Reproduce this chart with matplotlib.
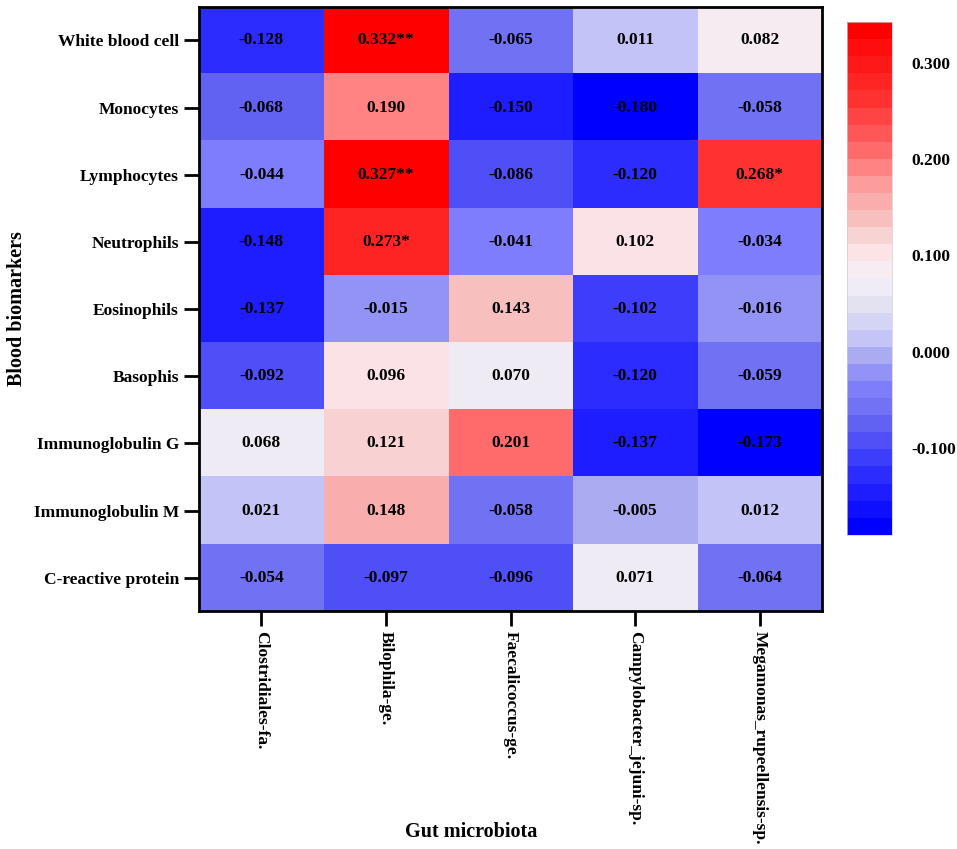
import numpy as np
import matplotlib
matplotlib.use("Agg")
import matplotlib.pyplot as plt
from matplotlib.colors import LinearSegmentedColormap, Normalize

plt.rcParams['font.family'] = ['Liberation Serif', 'DejaVu Serif']
plt.rcParams['font.weight'] = 'bold'

biomarkers = ["White blood cell", "Monocytes", "Lymphocytes", "Neutrophils",
              "Eosinophils", "Basophis", "Immunoglobulin G", "Immunoglobulin M",
              "C-reactive protein"]
microbiota = ["Clostridiales-fa.", "Bilophila-ge.", "Faecalicoccus-ge.",
              "Campylobacter_jejuni-sp.", "Megamonas_rupeellensis-sp."]

corr = np.array([
    [-0.128, 0.332, -0.065, 0.011, 0.082],
    [-0.068, 0.190, -0.150, -0.180, -0.058],
    [-0.044, 0.327, -0.086, -0.120, 0.268],
    [-0.148, 0.273, -0.041, 0.102, -0.034],
    [-0.137, -0.015, 0.143, -0.102, -0.016],
    [-0.092, 0.096, 0.070, -0.120, -0.059],
    [0.068, 0.121, 0.201, -0.137, -0.173],
    [0.021, 0.148, -0.058, -0.005, 0.012],
    [-0.054, -0.097, -0.096, 0.071, -0.064],
])
stars = [
    ["", "**", "", "", ""],
    ["", "", "", "", ""],
    ["", "**", "", "", "*"],
    ["", "*", "", "", ""],
    ["", "", "", "", ""],
    ["", "", "", "", ""],
    ["", "", "", "", ""],
    ["", "", "", "", ""],
    ["", "", "", "", ""],
]

vmin, vmax = -0.19, 0.342
cbar_ticks = [-0.1, 0.0, 0.1, 0.2, 0.3]

# colour anchors (value, colour) roughly following the original scale
anchors = [(-0.19, "#0000ff"), (-0.13, "#3030ff"), (-0.07, "#6c6cf0"),
           (-0.04, "#8080ff"), (-0.015, "#a0a0f0"), (0.015, "#c8c8f8"),
           (0.045, "#e0e0f0"), (0.075, "#f5f0f8"), (0.10, "#fbe6ea"),
           (0.125, "#f8d0d0"), (0.145, "#f8baba"), (0.19, "#ff9090"),
           (0.20, "#ff7878"), (0.27, "#ff3030"), (0.342, "#ff0000")]
cmap = LinearSegmentedColormap.from_list(
    "bwr_prism", [((v - vmin) / (vmax - vmin), c) for v, c in anchors]).resampled(30)
norm = Normalize(vmin=vmin, vmax=vmax)

fig = plt.figure(figsize=(9.57, 8.49), dpi=100)
ax = fig.add_axes([0.208, 0.280, 0.651, 0.712])
cax = fig.add_axes([0.885, 0.370, 0.047, 0.604])

im = ax.imshow(corr, cmap=cmap, norm=norm, aspect='auto', interpolation='nearest')

for i in range(corr.shape[0]):
    for j in range(corr.shape[1]):
        ax.text(j, i, f"{corr[i, j]:.3f}{stars[i][j]}", ha='center', va='center',
                fontsize=12.5, fontweight='bold', color='black')

ax.set_xticks(range(len(microbiota)))
ax.set_xticklabels(microbiota, rotation=-90, fontsize=12.5, fontweight='bold')
ax.set_yticks(range(len(biomarkers)))
ax.set_yticklabels(biomarkers, fontsize=12.5, fontweight='bold')
ax.tick_params(axis='both', length=11, width=2)
for s in ax.spines.values():
    s.set_linewidth(2)

fig.text(0.492, 0.020, "Gut microbiota", ha='center', va='center',
         fontsize=14.5, fontweight='bold')
fig.text(0.018, 0.636, "Blood biomarkers", ha='center', va='center',
         rotation=90, fontsize=14.5, fontweight='bold')

cb = fig.colorbar(im, cax=cax, ticks=cbar_ticks)
cb.ax.set_yticklabels([f"{t:.3f}" for t in cbar_ticks], fontsize=12.5, fontweight='bold')
cb.ax.tick_params(length=0, pad=14)
cb.outline.set_linewidth(0.5)
cb.outline.set_edgecolor('#cccccc')

fig.savefig("out.png", dpi=100)
